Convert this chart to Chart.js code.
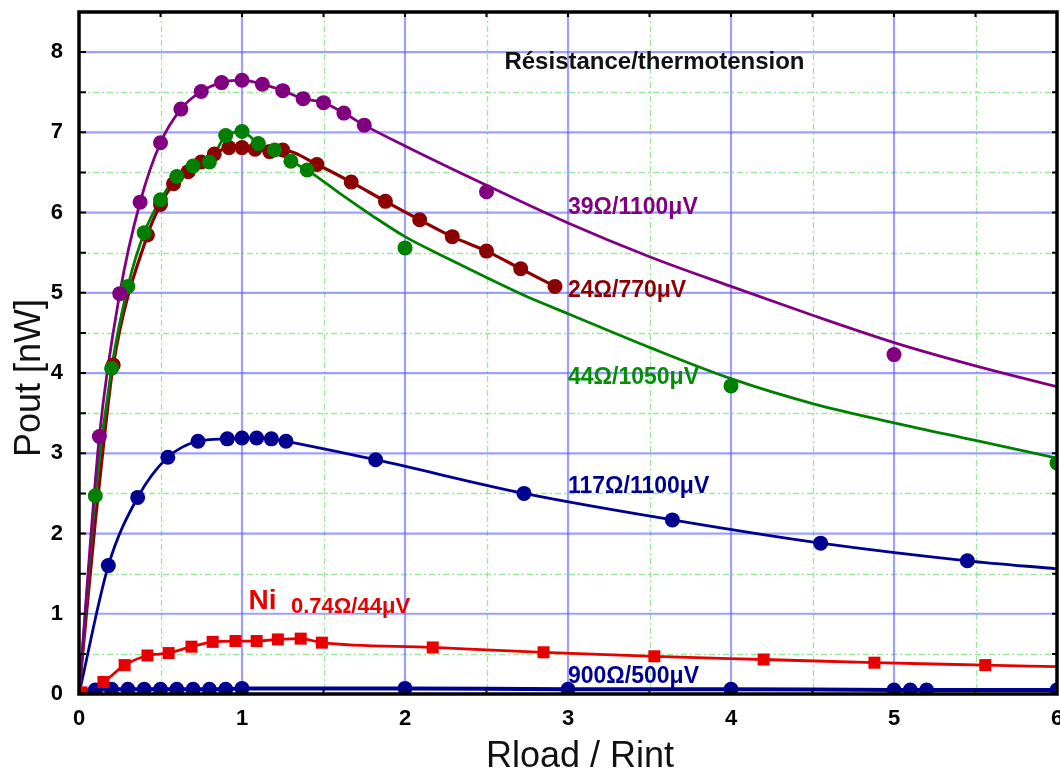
<!DOCTYPE html>
<html><head><meta charset="utf-8">
<script src="https://cdn.jsdelivr.net/npm/chart.js@4.4.0/dist/chart.umd.min.js"></script>
<style>html,body{margin:0;padding:0;background:#fff;}#wrap{width:1060px;height:776px;}</style>
</head><body><div id="wrap"><canvas id="c" width="1060" height="776"></canvas></div>
<script>
// ---- data ----
const xTicks = [0,1,2,3,4,5,6];
const yTicks = [0,1,2,3,4,5,6,7,8];

const purpleX = [0.125,0.25,0.375,0.5,0.625,0.75,0.875,1.0,1.125,1.25,1.375,1.5,1.625,1.75,2.5,5.0];
const purpleY = [3.21,4.99,6.13,6.87,7.29,7.51,7.62,7.65,7.60,7.52,7.42,7.37,7.24,7.09,6.26,4.23];
const purpleFitX = [0,0.125,0.25,0.375,0.5,0.625,0.75,0.875,1.0,1.125,1.25,1.375,1.5,1.625,1.75,2.0,2.5,3.0,3.5,4.0,4.5,5.0,5.5,6.0];
const purpleFitY = [0,3.21,4.99,6.13,6.87,7.29,7.51,7.62,7.65,7.60,7.52,7.42,7.37,7.24,7.09,6.83,6.34,5.87,5.45,5.08,4.72,4.38,4.09,3.83];

const greenX = [0.1,0.2,0.3,0.4,0.5,0.6,0.7,0.8,0.9,1.0,1.1,1.2,1.3,1.4,2.0,4.0,6.0];
const greenY = [2.47,4.06,5.08,5.75,6.16,6.45,6.58,6.63,6.96,7.01,6.86,6.78,6.64,6.53,5.56,3.84,2.88];
const greenFitX = [0,0.1,0.2,0.3,0.4,0.5,0.6,0.7,0.8,0.9,1.0,1.1,1.2,1.3,1.4,1.6,1.8,2.0,2.25,2.5,2.75,3.0,3.5,4.0,4.5,5.0,5.5,6.0];
const greenFitY = [0,2.47,4.06,5.08,5.75,6.16,6.45,6.58,6.63,6.96,7.01,6.86,6.78,6.64,6.53,6.24,5.96,5.70,5.44,5.19,4.95,4.74,4.32,3.93,3.62,3.38,3.16,2.94];

const brownX = [0.21,0.42,0.5,0.58,0.67,0.75,0.83,0.92,1.0,1.08,1.17,1.25,1.46,1.67,1.88,2.09,2.29,2.5,2.71,2.92];
const brownY = [4.10,5.72,6.10,6.36,6.51,6.63,6.73,6.81,6.81,6.79,6.76,6.78,6.60,6.38,6.14,5.91,5.70,5.52,5.30,5.08];
const brownFitX = [0,0.05,0.1,0.15,0.21,0.42,0.5,0.58,0.67,0.75,0.83,0.92,1.0,1.08,1.17,1.25,1.46,1.67,1.88,2.09,2.29,2.5,2.71,2.92];
const brownFitY = [0,1.1,2.15,3.1,4.10,5.72,6.10,6.36,6.51,6.63,6.73,6.81,6.81,6.79,6.76,6.78,6.60,6.38,6.14,5.91,5.70,5.52,5.30,5.08];

const b117X = [0.18,0.36,0.545,0.73,0.91,1.0,1.09,1.18,1.27,1.82,2.73,3.64,4.55,5.45];
const b117Y = [1.60,2.45,2.95,3.15,3.18,3.19,3.19,3.18,3.15,2.92,2.50,2.17,1.88,1.66];
const b117FitX = [0,0.18,0.36,0.545,0.73,0.91,1.0,1.09,1.18,1.27,1.82,2.73,3.64,4.55,5.45,6.0];
const b117FitY = [0,1.60,2.45,2.95,3.15,3.18,3.19,3.19,3.18,3.15,2.92,2.50,2.17,1.88,1.66,1.56];

const niX = [0.015,0.15,0.28,0.42,0.55,0.69,0.82,0.96,1.09,1.22,1.36,1.49,2.17,2.85,3.53,4.20,4.88,5.56];
const niY = [0.02,0.15,0.36,0.48,0.51,0.59,0.65,0.66,0.66,0.68,0.69,0.64,0.58,0.52,0.47,0.43,0.39,0.36];
const niFitX = [0,0.015,0.15,0.28,0.42,0.55,0.69,0.82,0.96,1.09,1.22,1.36,1.49,2.17,2.85,3.53,4.20,4.88,5.56,6.0];
const niFitY = [0,0.02,0.15,0.36,0.48,0.51,0.59,0.65,0.66,0.66,0.68,0.69,0.64,0.58,0.52,0.47,0.43,0.39,0.36,0.34];

const b900X = [0.1,0.2,0.3,0.4,0.5,0.6,0.7,0.8,0.9,1.0,2.0,3.0,4.0,5.0,5.1,5.2,6.0];
const b900Y = [0.05,0.06,0.06,0.06,0.06,0.06,0.06,0.06,0.06,0.07,0.07,0.06,0.06,0.05,0.05,0.05,0.05];
const b900FitX = [0,0.1,0.2,0.3,0.4,0.5,0.6,0.7,0.8,0.9,1.0,2.0,3.0,4.0,5.0,5.1,5.2,6.0];
const b900FitY = [0,0.05,0.06,0.06,0.06,0.06,0.06,0.06,0.06,0.06,0.07,0.07,0.06,0.06,0.05,0.05,0.05,0.05];

const seriesLabels = ['39Ω/1100μV','24Ω/770μV','44Ω/1050μV','117Ω/1100μV','Ni','0.74Ω/44μV','900Ω/500μV'];
const titleText = 'Résistance/thermotension';
const xTitle = 'Rload / Rint';
const yTitle = 'Pout [nW]';

// ---- styling ----
const C = {purple:'#800080', brown:'#8B0000', green:'#008000', navy:'#000090', red:'#E60000'};
const FONT = '"Liberation Sans", Arial, Helvetica, sans-serif';
const pts = (xs, ys) => xs.map((x,i)=>({x, y: ys[i]}));

function lineDs(xs, ys, color, w){
  return {data: pts(xs,ys), showLine:true, borderColor:color, borderWidth:w||2.8, pointRadius:0,
          cubicInterpolationMode:'monotone', fill:false};
}
function markDs(xs, ys, color, style, r){
  return {data: pts(xs,ys), showLine:false, pointStyle:style||'circle', pointRadius:r||7.5,
          pointBackgroundColor:color, pointBorderWidth:0, backgroundColor:color, borderColor:color};
}

const notes = [
  {t:titleText, x:2.61, y:7.87, c:'#111', f:'bold 24px '+FONT},
  {t:seriesLabels[0], x:3.0, y:6.06, c:C.purple, f:'bold 23px '+FONT},
  {t:seriesLabels[1], x:3.0, y:5.03, c:C.brown, f:'bold 23px '+FONT},
  {t:seriesLabels[2], x:3.0, y:3.94, c:'#009000', f:'bold 23px '+FONT},
  {t:seriesLabels[3], x:3.0, y:2.59, c:C.navy, f:'bold 23px '+FONT},
  {t:seriesLabels[4], x:1.04, y:1.15, c:C.red, f:'bold 28px '+FONT},
  {t:seriesLabels[5], x:1.30, y:1.08, c:C.red, f:'bold 22px '+FONT},
  {t:seriesLabels[6], x:3.0, y:0.22, c:C.navy, f:'bold 23px '+FONT}
];

const framePlugin = {
  id:'frame',
  beforeDatasetsDraw(chart){
    const {ctx, chartArea:a, scales:{x, y}} = chart;
    ctx.save();
    ctx.strokeStyle = 'rgba(120,225,120,0.75)'; ctx.lineWidth = 1.3; ctx.setLineDash([6,3,2,3]);
    xTicks.slice(0,-1).forEach(v=>{ const p = Math.round(x.getPixelForValue(v+0.5))+0.5;
      ctx.beginPath(); ctx.moveTo(p,a.top); ctx.lineTo(p,a.bottom); ctx.stroke(); });
    yTicks.forEach(v=>{ const p = Math.round(y.getPixelForValue(v+0.5))+0.5;
      if (p > a.top+2){ ctx.beginPath(); ctx.moveTo(a.left,p); ctx.lineTo(a.right,p); ctx.stroke(); }});
    ctx.setLineDash([]); ctx.strokeStyle = 'rgba(95,95,255,0.6)'; ctx.lineWidth = 2.2;
    xTicks.slice(1,-1).forEach(v=>{ const p = x.getPixelForValue(v);
      ctx.beginPath(); ctx.moveTo(p,a.top); ctx.lineTo(p,a.bottom); ctx.stroke(); });
    yTicks.slice(1).forEach(v=>{ const p = y.getPixelForValue(v);
      ctx.beginPath(); ctx.moveTo(a.left,p); ctx.lineTo(a.right,p); ctx.stroke(); });
    ctx.restore();
  },
  afterDatasetsDraw(chart){
    const {ctx, chartArea:a, scales:{x, y}} = chart;
    ctx.save();
    ctx.strokeStyle = '#000'; ctx.lineWidth = 3.5;
    ctx.strokeRect(a.left, a.top, a.right-a.left, a.bottom-a.top);
    ctx.lineWidth = 2;
    const halfs = [];
    yTicks.forEach(v=>{ halfs.push(v); halfs.push(v+0.5); });
    halfs.forEach(v=>{ if (v<=0 || v>=8.5) return; const p = y.getPixelForValue(v);
      ctx.beginPath(); ctx.moveTo(a.left, p); ctx.lineTo(a.left+7, p);
      ctx.moveTo(a.right, p); ctx.lineTo(a.right-5, p); ctx.stroke(); });
    const xh = [];
    xTicks.forEach(v=>{ xh.push(v); xh.push(v+0.5); });
    xh.forEach(v=>{ if (v<=0 || v>=6) return; const p = x.getPixelForValue(v);
      ctx.beginPath(); ctx.moveTo(p, a.top); ctx.lineTo(p, a.top+5);
      ctx.moveTo(p, a.bottom); ctx.lineTo(p, a.bottom-5); ctx.stroke(); });
    ctx.textBaseline = 'middle'; ctx.textAlign = 'left';
    notes.forEach(n=>{ ctx.font = n.f; ctx.fillStyle = n.c;
      ctx.fillText(n.t, x.getPixelForValue(n.x), y.getPixelForValue(n.y)); });
    ctx.fillStyle = '#111'; ctx.font = '36px '+FONT; ctx.textAlign = 'center';
    ctx.fillText(xTitle, (a.left+a.right)/2 + 12, 757);
    ctx.translate(30, 378); ctx.rotate(-Math.PI/2);
    ctx.fillText(yTitle, 0, 0);
    ctx.restore();
  }
};

new Chart(document.getElementById('c'), {
  type:'scatter',
  data:{ datasets:[
    markDs(purpleX, purpleY, C.purple),
    markDs(greenX, greenY, C.green),
    markDs(brownX, brownY, C.brown),
    markDs(b117X, b117Y, C.navy),
    markDs(niX, niY, C.red, 'rect', 8.5),
    markDs(b900X, b900Y, C.navy),
    lineDs(purpleFitX, purpleFitY, C.purple),
    lineDs(greenFitX, greenFitY, C.green),
    lineDs(brownFitX, brownFitY, C.brown, 3.2),
    lineDs(b117FitX, b117FitY, C.navy),
    lineDs(niFitX, niFitY, C.red),
    lineDs(b900FitX, b900FitY, C.navy, 4)
  ]},
  options:{
    responsive:false, animation:false, devicePixelRatio:1,
    layout:{autoPadding:false, padding:{top:12, right:3, left:0, bottom:0}},
    plugins:{legend:{display:false}, tooltip:{enabled:false}},
    scales:{
      x:{type:'linear', min:0, max:6, grid:{display:false}, border:{display:false},
         afterBuildTicks: s => { s.ticks = xTicks.map(v=>({value:v})); },
         afterFit: s => { s.height = 82; s.paddingLeft = 0; s.paddingRight = 0; },
         ticks:{stepSize:1, padding:4, color:'#000', font:{family:FONT, size:22, weight:'bold'}, maxRotation:0}},
      y:{type:'linear', min:0, max:8.5, grid:{display:false}, border:{display:false},
         afterBuildTicks: s => { s.ticks = yTicks.map(v=>({value:v})); },
         afterFit: s => { s.width = 79; s.paddingTop = 0; s.paddingBottom = 0; },
         ticks:{stepSize:1, padding:8, color:'#000', font:{family:FONT, size:22, weight:'bold'}}}
    }
  },
  plugins:[framePlugin]
});
</script></body></html>
